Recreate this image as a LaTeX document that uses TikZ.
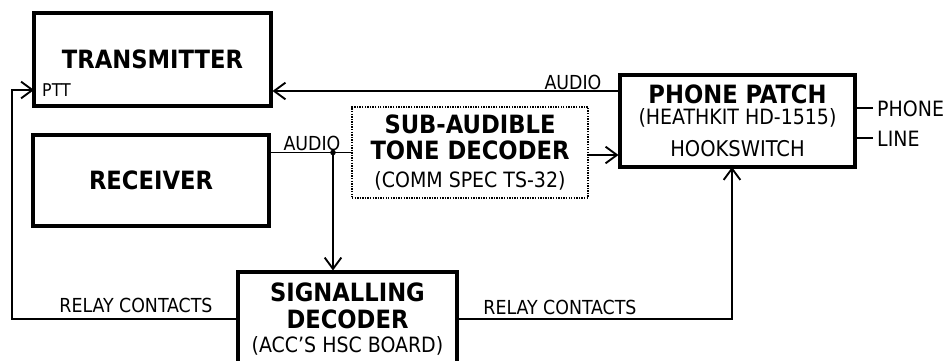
\documentclass[tikz,border=0pt]{standalone}
\usepackage{fontspec}
\setmainfont{DejaVu Sans Condensed}
\usetikzlibrary{positioning,arrows.meta}
\newcommand\subline[1]{{\fontsize{18}{19}\mdseries\selectfont #1}}

\begin{document}
\begin{tikzpicture}[x=0.03cm, y=-0.03cm,
  blk/.style={draw, line width=2.6pt, inner sep=0pt, align=center, minimum width=7.08cm, minimum height=2.76cm, font=\fontsize{21.5}{19}\bfseries\selectfont},
  lbl/.style={inner sep=0pt, font=\fontsize{16.5}{18}\selectfont},
  wire/.style={line width=1.6pt}, >={Straight Barb[length=3.4mm,width=5mm]}]
\useasboundingbox (0,0) rectangle (952,360);
\clip (0,0) rectangle (952,360);
\node[blk, minimum width=7.11cm, minimum height=2.79cm] (tx) at (152.5,59.5) {TRANSMITTER};
\node[blk, minimum height=2.73cm] (rx) at (151,180.5) {RECEIVER};
\node[blk, minimum height=2.73cm, line width=1.2pt, densely dotted] (sub) at (470,152.5) {SUB-AUDIBLE\\[3pt]TONE DECODER\\[5pt]\subline{(COMM SPEC TS-32)}};
\node[blk, minimum width=7.05cm] (pp) at (737.5,121) {PHONE PATCH\\[-1pt]\subline{(HEATHKIT HD-1515)}\\[8pt]{\fontsize{18.5}{19}\mdseries\selectfont HOOKSWITCH}};
\node[blk, minimum width=6.57cm, minimum height=2.82cm] (sig) at (347.5,319) {SIGNALLING\\[4pt]DECODER\\[2pt]\subline{(ACC'S HSC BOARD)}};
% labels
\node[lbl, font=\fontsize{15}{16}\selectfont, anchor=west] (pttlbl) at (42,90) {PTT};
\node[lbl] (audtx) at (573,82) {AUDIO};
\node[lbl] (audrx) at (312,143) {AUDIO};
\node[lbl] (relayl) at (136,305) {RELAY CONTACTS};
\node[lbl] (relayr) at (560,307) {RELAY CONTACTS};
\node[lbl, align=left, anchor=west, font=\fontsize{18}{25.5}\selectfont] (tel) at (877,124) {PHONE\\LINE};
% connectors
\coordinate (pttin) at (34,90);
\coordinate (ppaud) at (620,91);
\coordinate (jn) at (333,152.5);
\coordinate (lft) at (12,319);
\coordinate (hook) at (732,167);
\draw[wire, ->] (ppaud) -- (tx.east |- ppaud);
\draw[wire] (rx.east |- sub.west) -- (sub.west);
\draw[wire, ->] (jn) -- (jn |- sig.north);
\fill (jn) circle (2.8);
\draw[wire, ->] (sub.east |- 0,155) -- (pp.west |- 0,155);
\draw[wire, ->] (sig.west) -- (lft) |- (pttin);
\draw[wire, ->] (sig.east) -| (hook);
\foreach \yy in {108,138} \draw[wire] (pp.east |- 0,\yy) -- ([xshift=-0.12cm]tel.west |- 0,\yy);
\end{tikzpicture}
\end{document}
